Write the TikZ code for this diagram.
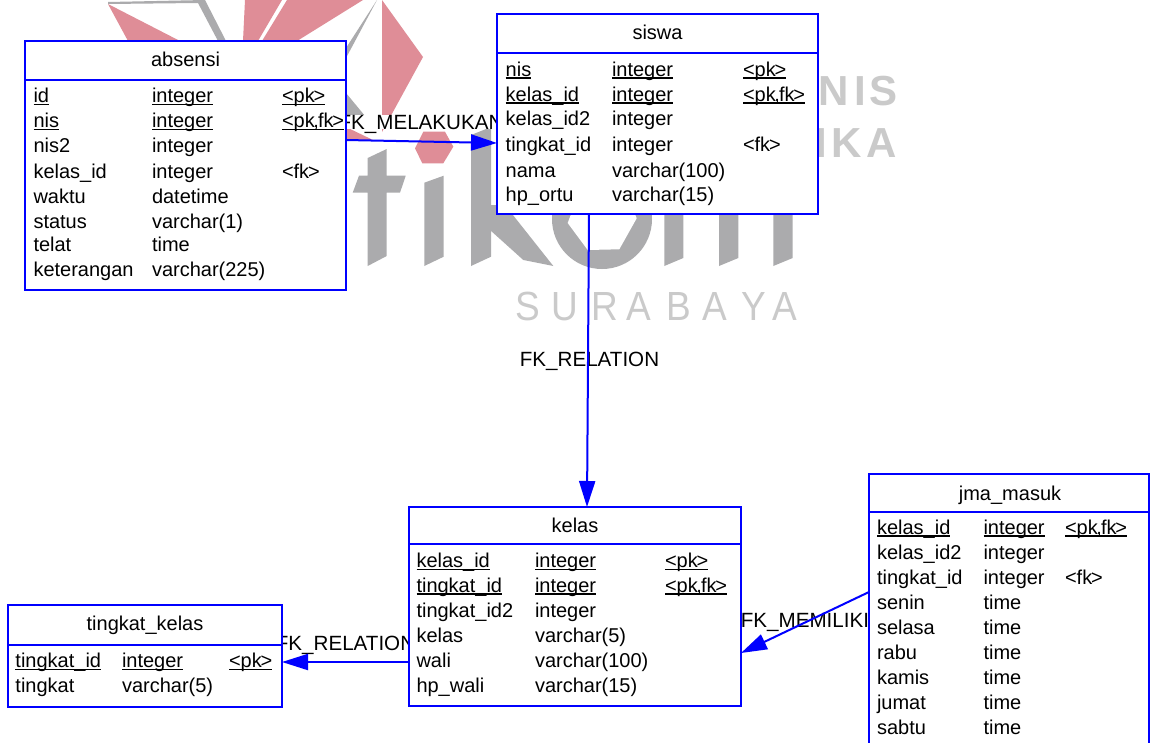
\documentclass[tikz,border=0pt]{standalone}
\usepackage{fontspec}
\setmainfont{Liberation Sans}
\usetikzlibrary{arrows.meta}
\definecolor{wmgray}{HTML}{ABABAD}
\definecolor{wmlight}{HTML}{CACACA}
\definecolor{wmpink}{HTML}{DF8D97}
\newcommand\ul[1]{\setbox0\hbox{#1}\rlap{\rule[-2.6pt]{\wd0}{1.3pt}}\box0 }
\newcommand\pk{<pk\kern-1.2pt>}
\newcommand\pkfk{<pk\kern-1.4pt,\kern-.8pt fk\kern-1.4pt>}
\newcommand\fkey{<fk\kern-1.2pt>}
\newcommand\Rows[5]{\foreach \ri/\ry/\ca/\cb/\cc in {#5}{%
  \node[cell] (#1-\ri-name) at (#2,\ry) {\ca};
  \node[cell] (#1-\ri-type) at (#3,\ry) {\cb};
  \node[cell] (#1-\ri-key) at (#4,\ry) {\cc};}}
\tikzset{
  cell/.style={anchor=base west,inner sep=0pt,outer sep=0pt,font=\fontsize{20}{20}\selectfont},
  title/.style={anchor=base,inner sep=0pt,outer sep=0pt,font=\fontsize{20}{20}\selectfont},
  tablebox/.style={draw=blue,fill=white,line width=2pt,inner sep=0pt,outer sep=0pt},
  divider/.style={draw=blue,line width=2pt},
  fk/.style={draw=blue,line width=2pt,-{Triangle[length=26pt,width=16pt,fill=blue]}},
  fklabel/.style={anchor=base,fill=white,inner sep=0pt,outer sep=0pt,text height=14pt,text depth=0pt,font=\fontsize{20.6}{20.6}\selectfont},
  wm/.style={fill=wmgray,draw=none},
  wp/.style={fill=wmpink,draw=none},
  wtb/.style={anchor=base west,inner sep=0pt,text=wmlight,font=\fontsize{42}{42}\selectfont\bfseries},
  wts/.style={anchor=base west,inner sep=0pt,text=wmlight,yscale=1.1,transform shape,font=\fontsize{37}{37}\selectfont}
}
\begin{document}
\begin{tikzpicture}[x=1pt,y=-1pt]
\useasboundingbox (0,0) rectangle (1151,742);
\clip (0,0) rectangle (1151,742);
\fill[white] (0,0) rectangle (1151,742);
% watermark: star fragments
\fill[wm] (108,2) -- (205,0) -- (226,41) -- (218,41) -- (198,3) -- (108,4) -- cycle;
\fill[wp] (108,4) -- (180,41) -- (128,41) -- cycle;
\fill[wp] (245,0) -- (282,0) -- (258,41) -- (243,41) -- cycle;
\fill[wp] (287,0) -- (363,0) -- (297,41) -- (262,41) -- cycle;
\fill[wm] (377,0) -- (346,58) -- (346,48) -- cycle;
\fill[wp] (382,0) -- (423,57) -- (382,132) -- cycle;
\fill[wm] (346,93) -- (370,122) -- (346,122) -- cycle;
\fill[wp] (346,127) -- (373,140) -- (346,140) -- cycle;
% watermark: letters
\fill[wm] (367.7,158) -- (386.7,149) -- (386.7,175.7) -- (405.7,175.7) -- (400,192.7) -- (386.7,192.7) -- (386.7,256) -- (367.7,266) -- (367.7,192.7) -- (352.7,192.7) -- (359,175.7) -- (367.7,175.7) -- cycle;
\fill[wm] (424.3,182.7) -- (443.7,175.7) -- (443.7,256.7) -- (424.3,266) -- cycle;
\fill[wp] (415,148.3) -- (423.3,131.7) -- (445,131.7) -- (453.3,146.7) -- (443.3,163.3) -- (422.3,163.3) -- cycle;
\fill[wm] (471,135) -- (491,127) -- (491,256.7) -- (471,266) -- cycle;
\fill[wm] (490,205) -- (505,205) -- (553.3,266) -- (523.3,260) -- (490,230) -- cycle;
\fill[wm] (602,219) circle (50);
\fill[white] (567.7,223) -- (587.7,250) -- (619.3,249.3) -- (636.7,218.3) -- (625,190) -- (580,190) -- cycle;
\fill[wm] (664.3,200) -- (683.3,200) -- (683.3,258) -- (664.3,266) -- cycle;
\fill[wm] (719,200) -- (738.3,200) -- (738.3,258) -- (719,266) -- cycle;
\fill[wm] (773.3,200) -- (792.7,200) -- (792.7,258) -- (773.3,266) -- cycle;
\node[wtb] (wmnis) at (818,105) {N\kern6pt I\kern3.5pt S};
\node[wtb] (wmika) at (815,157) {I\kern4.3pt K\kern4.7pt A};
\node[wts] (wmsurabaya) at (515,320) {S\kern11.5pt U\kern13.5pt R\kern8.5pt A\kern15.5pt B\kern10.5pt A\kern15pt Y\kern5.5pt A};
% connector labels, beneath the tables
\node[fklabel] (lmelakukan) at (421,129) {FK\_MELAKUKAN};
\node[fklabel] (lrelation) at (589.5,366) {FK\_RELATION};
\node[fklabel] (lrelation2) at (345.5,650) {FK\_RELATION};
\node[fklabel] (lmemiliki) at (805,627) {FK\_MEMILIKI};
% tables
\node[tablebox,minimum width=321pt,minimum height=249pt] (absensi) at (185.5,165.5) {};
\draw[divider] (absensi.west |- 0,80) -- (absensi.east |- 0,80);
\node[title] (absensi-title) at (185.5,66) {absensi};
\Rows{absensi}{33.5}{152}{282}{
 1/102.7/\ul{id}/\ul{integer}/\ul{\pk},
 2/127.7/\ul{nis}/\ul{integer}/\ul{\pkfk},
 3/152/nis2/integer/{},
 4/178/kelas\_id/integer/\fkey,
 5/203/waktu/datetime/{},
 6/228/status/varchar(1)/{},
 7/251/telat/time/{},
 8/276/keterangan/varchar(225)/{}}
\node[tablebox,minimum width=321pt,minimum height=200pt] (siswa) at (657.5,114) {};
\draw[divider] (siswa.west |- 0,53) -- (siswa.east |- 0,53);
\node[title] (siswa-title) at (657.5,39) {siswa};
\Rows{siswa}{505.7}{612}{743}{
 1/76/\ul{nis}/\ul{integer}/\ul{\pk},
 2/101/\ul{kelas\_id}/\ul{integer}/\ul{\pkfk},
 3/125/kelas\_id2/integer/{},
 4/151/tingkat\_id/integer/\fkey,
 5/177/nama/varchar(100)/{},
 6/201/hp\_ortu/varchar(15)/{}}
\node[tablebox,minimum width=332pt,minimum height=199pt] (kelas) at (575,606.5) {};
\draw[divider] (kelas.west |- 0,544) -- (kelas.east |- 0,544);
\node[title] (kelas-title) at (575,532) {kelas};
\Rows{kelas}{416.5}{535}{665}{
 1/567.7/\ul{kelas\_id}/\ul{integer}/\ul{\pk},
 2/592/\ul{tingkat\_id}/\ul{integer}/\ul{\pkfk},
 3/617/tingkat\_id2/integer/{},
 4/642/kelas/varchar(5)/{},
 5/667/wali/varchar(100)/{},
 6/692/hp\_wali/varchar(15)/{}}
\node[tablebox,minimum width=274pt,minimum height=102pt] (tingkat) at (145,656) {};
\draw[divider] (tingkat.west |- 0,645) -- (tingkat.east |- 0,645);
\node[title] (tingkat-title) at (145,630) {tingkat\_kelas};
\Rows{tingkat}{15.5}{122}{229}{
 1/667.7/\ul{tingkat\_id}/\ul{integer}/\ul{\pk},
 2/692/tingkat/varchar(5)/{}}
\node[tablebox,minimum width=280pt,minimum height=286pt] (jma) at (1009,617) {};
\draw[divider] (jma.west |- 0,512) -- (jma.east |- 0,512);
\node[title] (jma-title) at (1010,500) {jma\_masuk};
\Rows{jma}{877}{983.5}{1065}{
 1/534/\ul{kelas\_id}/\ul{integer}/\ul{\pkfk},
 2/559/kelas\_id2/integer/{},
 3/584/tingkat\_id/integer/\fkey,
 4/609/senin/time/{},
 5/634/selasa/time/{},
 6/659/rabu/time/{},
 7/684/kamis/time/{},
 8/709/jumat/time/{},
 9/734/sabtu/time/{}}
% connectors
\draw[fk] (absensi.east |- 0,140) -- (siswa.west |- 0,143);
\draw[fk] (siswa.south -| 589,0) -- (kelas.north -| 587,0);
\draw[fk] (kelas.west |- 0,662) -- (tingkat.east |- 0,662);
\draw[fk] (jma.west |- 0,592) -- (kelas.east |- 0,653);
\end{tikzpicture}
\end{document}
